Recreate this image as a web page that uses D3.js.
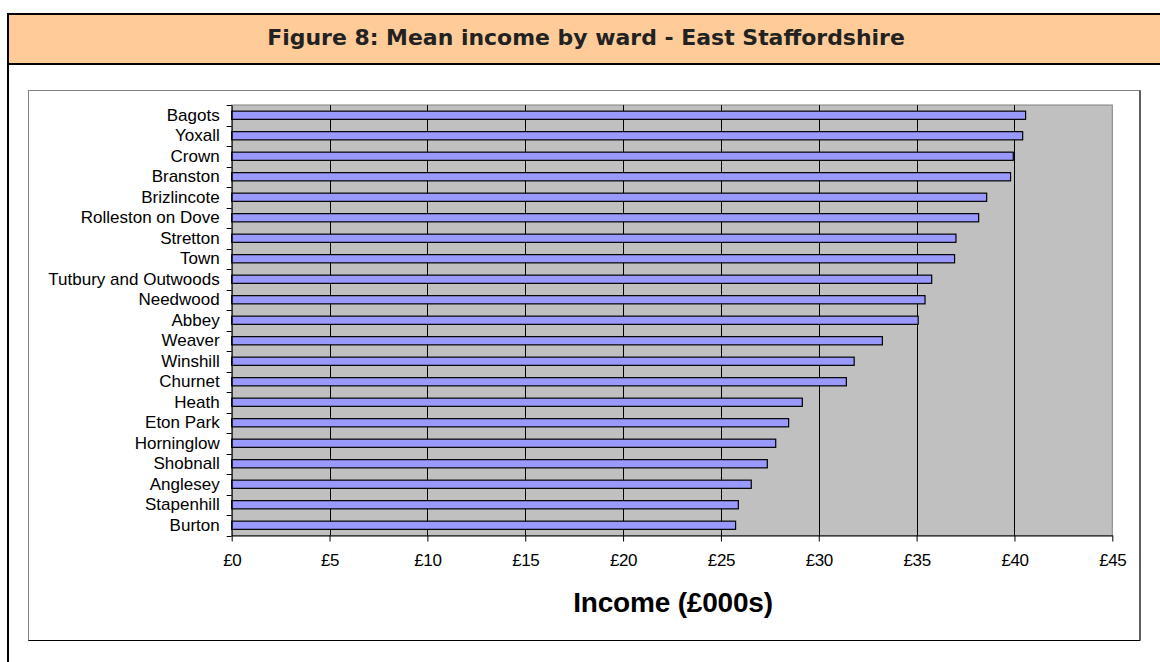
<!DOCTYPE html>
<html>
<head>
<meta charset="utf-8">
<script src="https://cdn.jsdelivr.net/npm/d3@7"></script>
<style>
  html, body { margin: 0; padding: 0; background: #ffffff; }
  svg { display: block; }
</style>
</head>
<body>
<svg id="chart" width="1160" height="662"></svg>
<script>
// ---- Data ----
const titleText = "Figure 8: Mean income by ward - East Staffordshire";
const axisTitle = "Income (£000s)";
const wards = ["Bagots", "Yoxall", "Crown", "Branston", "Brizlincote", "Rolleston on Dove",
  "Stretton", "Town", "Tutbury and Outwoods", "Needwood", "Abbey", "Weaver", "Winshill",
  "Churnet", "Heath", "Eton Park", "Horninglow", "Shobnall", "Anglesey", "Stapenhill", "Burton"];
const meanIncome = [40.57, 40.42, 39.94, 39.80, 38.58, 38.17,
  37.01, 36.94, 35.77, 35.43, 35.08, 33.25, 31.81,
  31.41, 29.16, 28.46, 27.80, 27.37, 26.55, 25.89, 25.75];
const xTicks = [0, 5, 10, 15, 20, 25, 30, 35, 40, 45];

// ---- Layout ----
const svg = d3.select("#chart");
const W = 1160, H = 662;
const plot = { left: 231.7, right: 1112.3, top: 105, bottom: 535.5 };

// Outer frame and title band
svg.append("rect").attr("x", 8).attr("y", 14).attr("width", W + 20).attr("height", 50)
  .attr("fill", "#FFCC99").attr("stroke", "#000").attr("stroke-width", 2);
svg.append("line").attr("x1", 8).attr("x2", 8).attr("y1", 14).attr("y2", H + 5)
  .attr("stroke", "#000").attr("stroke-width", 2);

const title = svg.append("text").text(titleText)
  .attr("x", 586).attr("y", 45)
  .attr("text-anchor", "middle")
  .attr("font-family", "DejaVu Sans, Verdana, sans-serif")
  .attr("font-weight", "bold")
  .attr("font-size", 17)
  .attr("fill", "#222");
const tl = title.node().getComputedTextLength();
title.attr("font-size", Math.max(12, Math.min(22, 17 * 638 / tl)));

// Inner chart box (shadowed border)
svg.append("rect").attr("x", 28.5).attr("y", 90.5).attr("width", 1111.5).attr("height", 550)
  .attr("fill", "#fff").attr("stroke", "#808080").attr("stroke-width", 1);
svg.append("path").attr("d", "M1140,90.5 V640.5 H28.5")
  .attr("fill", "none").attr("stroke", "#000").attr("stroke-width", 1);

// Scales
const x = d3.scaleLinear().domain([0, 45]).range([plot.left, plot.right]);
const y = d3.scaleBand().domain(wards).range([plot.top, plot.bottom])
  .paddingInner(0.6).paddingOuter(0.3);

// Plot area
svg.append("rect").attr("x", plot.left).attr("y", plot.top)
  .attr("width", plot.right - plot.left).attr("height", plot.bottom - plot.top)
  .attr("fill", "#C0C0C0").attr("stroke", "#808080").attr("stroke-width", 1);

// Gridlines
svg.append("g").selectAll("line").data(xTicks.filter(d => d > 0 && d < 45)).join("line")
  .attr("x1", d => Math.round(x(d)) + 0.5).attr("x2", d => Math.round(x(d)) + 0.5)
  .attr("y1", plot.top).attr("y2", plot.bottom)
  .attr("stroke", "#000").attr("stroke-width", 1);

// Bars
const data = wards.map((w, i) => ({ w, v: meanIncome[i] }));
svg.append("g").selectAll("rect").data(data).join("rect")
  .attr("x", x(0))
  .attr("y", d => y(d.w))
  .attr("width", d => x(d.v) - x(0))
  .attr("height", y.bandwidth())
  .attr("fill", "#9999FF")
  .attr("stroke", "#000")
  .attr("stroke-width", 1.2);

// X axis
const xAxis = d3.axisBottom(x).tickValues(xTicks).tickFormat(d => "£" + d)
  .tickSize(6).tickSizeOuter(0).tickPadding(12.4);
const gx = svg.append("g").attr("transform", `translate(0,${plot.bottom})`).call(xAxis);
gx.selectAll("text").attr("font-family", "Liberation Sans, Arial, sans-serif")
  .attr("font-size", 17).attr("fill", "#000").attr("letter-spacing", -0.4);
gx.selectAll("line, path").attr("stroke", "#000");

// Y axis labels
const yAxis = d3.axisLeft(y).tickSize(0).tickPadding(12);
const gy = svg.append("g").attr("transform", `translate(${plot.left},0)`).call(yAxis);
gy.selectAll("text").attr("font-family", "Liberation Sans, Arial, sans-serif")
  .attr("font-size", 17).attr("fill", "#000").attr("letter-spacing", 0);
gy.select("path.domain").attr("stroke", "#000");

// Y boundary ticks
const step = y.step();
const bounds = wards.map(w => y(w) - (step - y.bandwidth()) / 2).concat([plot.bottom]);
svg.append("g").selectAll("line").data(bounds).join("line")
  .attr("x1", plot.left - 5).attr("x2", plot.left)
  .attr("y1", d => Math.round(d) + 0.5).attr("y2", d => Math.round(d) + 0.5)
  .attr("stroke", "#000").attr("stroke-width", 1);

// Axis title
svg.append("text").text(axisTitle)
  .attr("x", 673).attr("y", 612)
  .attr("text-anchor", "middle")
  .attr("font-family", "Liberation Sans, Arial, sans-serif")
  .attr("font-weight", "bold")
  .attr("font-size", 28)
  .attr("letter-spacing", -0.2)
  .attr("fill", "#000");
</script>
</body>
</html>
